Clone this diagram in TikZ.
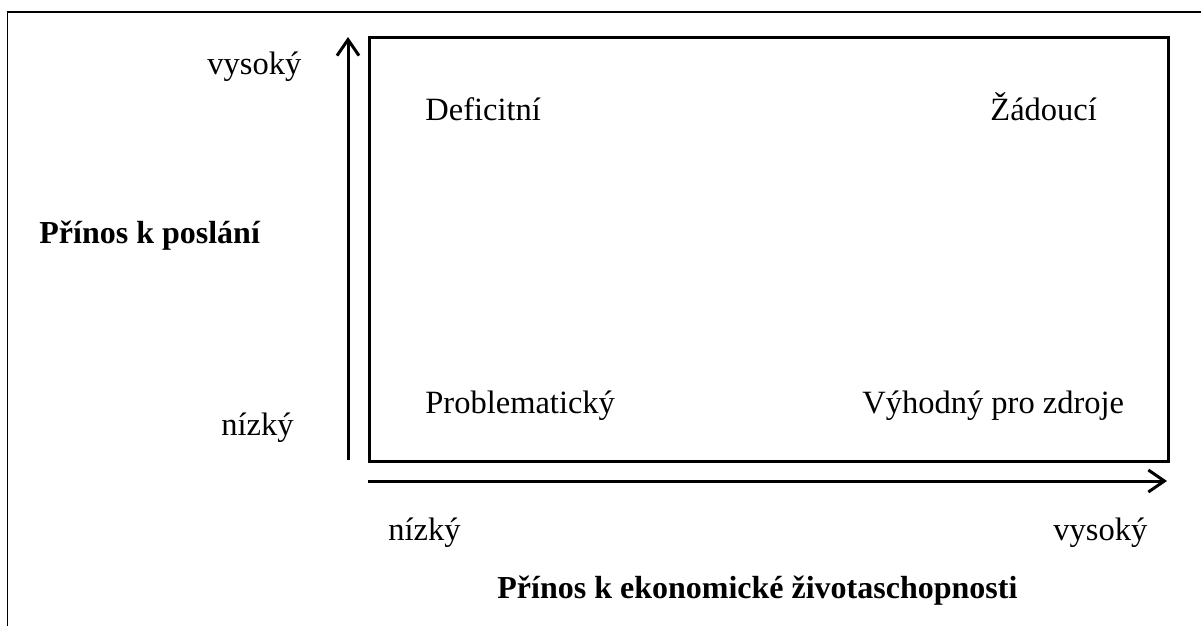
\documentclass[tikz,border=0pt]{standalone}
\usepackage{fontspec}
\setmainfont{Liberation Serif}
\usetikzlibrary{arrows.meta}
\tikzset{
  lbl/.style={anchor=base west,inner sep=0pt,font=\fontsize{16.25}{20}\selectfont},
  blbl/.style={anchor=base west,inner sep=0pt,font=\fontsize{16}{20}\selectfont\bfseries},
  axis/.style={line width=1.5pt,-{Straight Barb[length=8pt,width=11pt,line width=1.5pt]}},
  frame/.style={line width=0.6pt},
}
\begin{document}
\begin{tikzpicture}[x=0.5pt,y=-0.5pt]
\useasboundingbox (0,0) rectangle (1201,626);
% outer frame (top and left only)
\coordinate (fbl) at (7.5,626);
\coordinate (ftl) at (7.5,12);
\coordinate (ftr) at (1201,12);
\draw[frame] (fbl) -- (ftl) -- (ftr);
% matrix box
\node[draw,line width=1.5pt,minimum width=399.5pt,minimum height=212pt,inner sep=0pt,anchor=north west] (box) at (368,36) {};
% axes
\coordinate (vs) at (348,460);
\coordinate (ve) at (348,37);
\coordinate (hs) at (368,481);
\coordinate (he) at (1167,481);
\draw[axis] (vs) -- (ve);
\draw[axis] (hs) -- (he);
% quadrant labels
\node[lbl] (q1) at (425,121) {Deficitní};
\node[lbl] (q2) at (990,121) {Žádoucí};
\node[lbl] (q3) at (425,413) {Problematický};
\node[lbl] (q4) at (862,413) {Výhodný pro zdroje};
% y axis labels
\node[lbl] (yhi) at (207,75) {vysoký};
\node[lbl] (ylo) at (221,435) {nízký};
\node[blbl] (ytitle) at (39,243) {Přínos k poslání};
% x axis labels
\node[lbl] (xlo) at (388,540) {nízký};
\node[lbl] (xhi) at (1053,540) {vysoký};
\node[blbl] (xtitle) at (497,598) {Přínos k ekonomické životaschopnosti};
\end{tikzpicture}
\end{document}
